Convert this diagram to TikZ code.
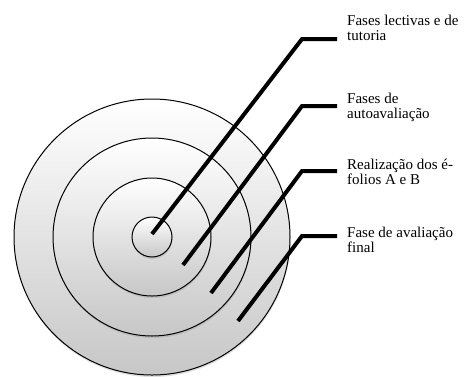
\documentclass[tikz,border=0pt]{standalone}
\usepackage{fontspec}
\setmainfont{Liberation Serif}
\usetikzlibrary{shadows}

\begin{document}
\begin{tikzpicture}[
    x=1pt, y=1pt,
    ring/.style={
        circle, draw=black, line width=1pt, inner sep=0pt,
        top color=white, bottom color=black!22,
        drop shadow={opacity=0.25, shadow xshift=0.5pt, shadow yshift=-2pt}
    },
    leader/.style={line width=4pt, line join=miter},
    phase/.style={anchor=north west, inner sep=0pt, align=left,
        font=\fontsize{15}{15}\selectfont}
]
\useasboundingbox (0,0) rectangle (465,-376);

% rings, outer first
\foreach \name/\d in {ring4/276, ring3/198, ring2/118, ring1/40}
    \node[ring, minimum size=\d pt] (\name) at (152,-237) {};

% start, corner and end of each leader
\coordinate (s1) at (152,-234);
\coordinate (s2) at (183,-265);
\coordinate (s3) at (211,-293);
\coordinate (s4) at (238,-321);
\coordinate (k1) at (302,-39);
\coordinate (k2) at (302,-106);
\coordinate (k3) at (302,-171);
\coordinate (k4) at (302,-236);
\coordinate (e1) at (337,-39);
\coordinate (e2) at (337,-106);
\coordinate (e3) at (337,-171);
\coordinate (e4) at (337,-236);

\node[phase] (lab1) at (347,-14.7) {Fases lectivas e de\\tutoria};
\node[phase] (lab2) at (347,-92.7) {Fases de\\autoavaliação};
\node[phase] (lab3) at (347,-158.7) {Realização dos é-\\folios A e B};
\node[phase] (lab4) at (347,-226.7) {Fase de avaliação\\final};

\foreach \i in {1,...,4}
    \draw[leader] (s\i) -- (k\i) -- (e\i);
\end{tikzpicture}
\end{document}
